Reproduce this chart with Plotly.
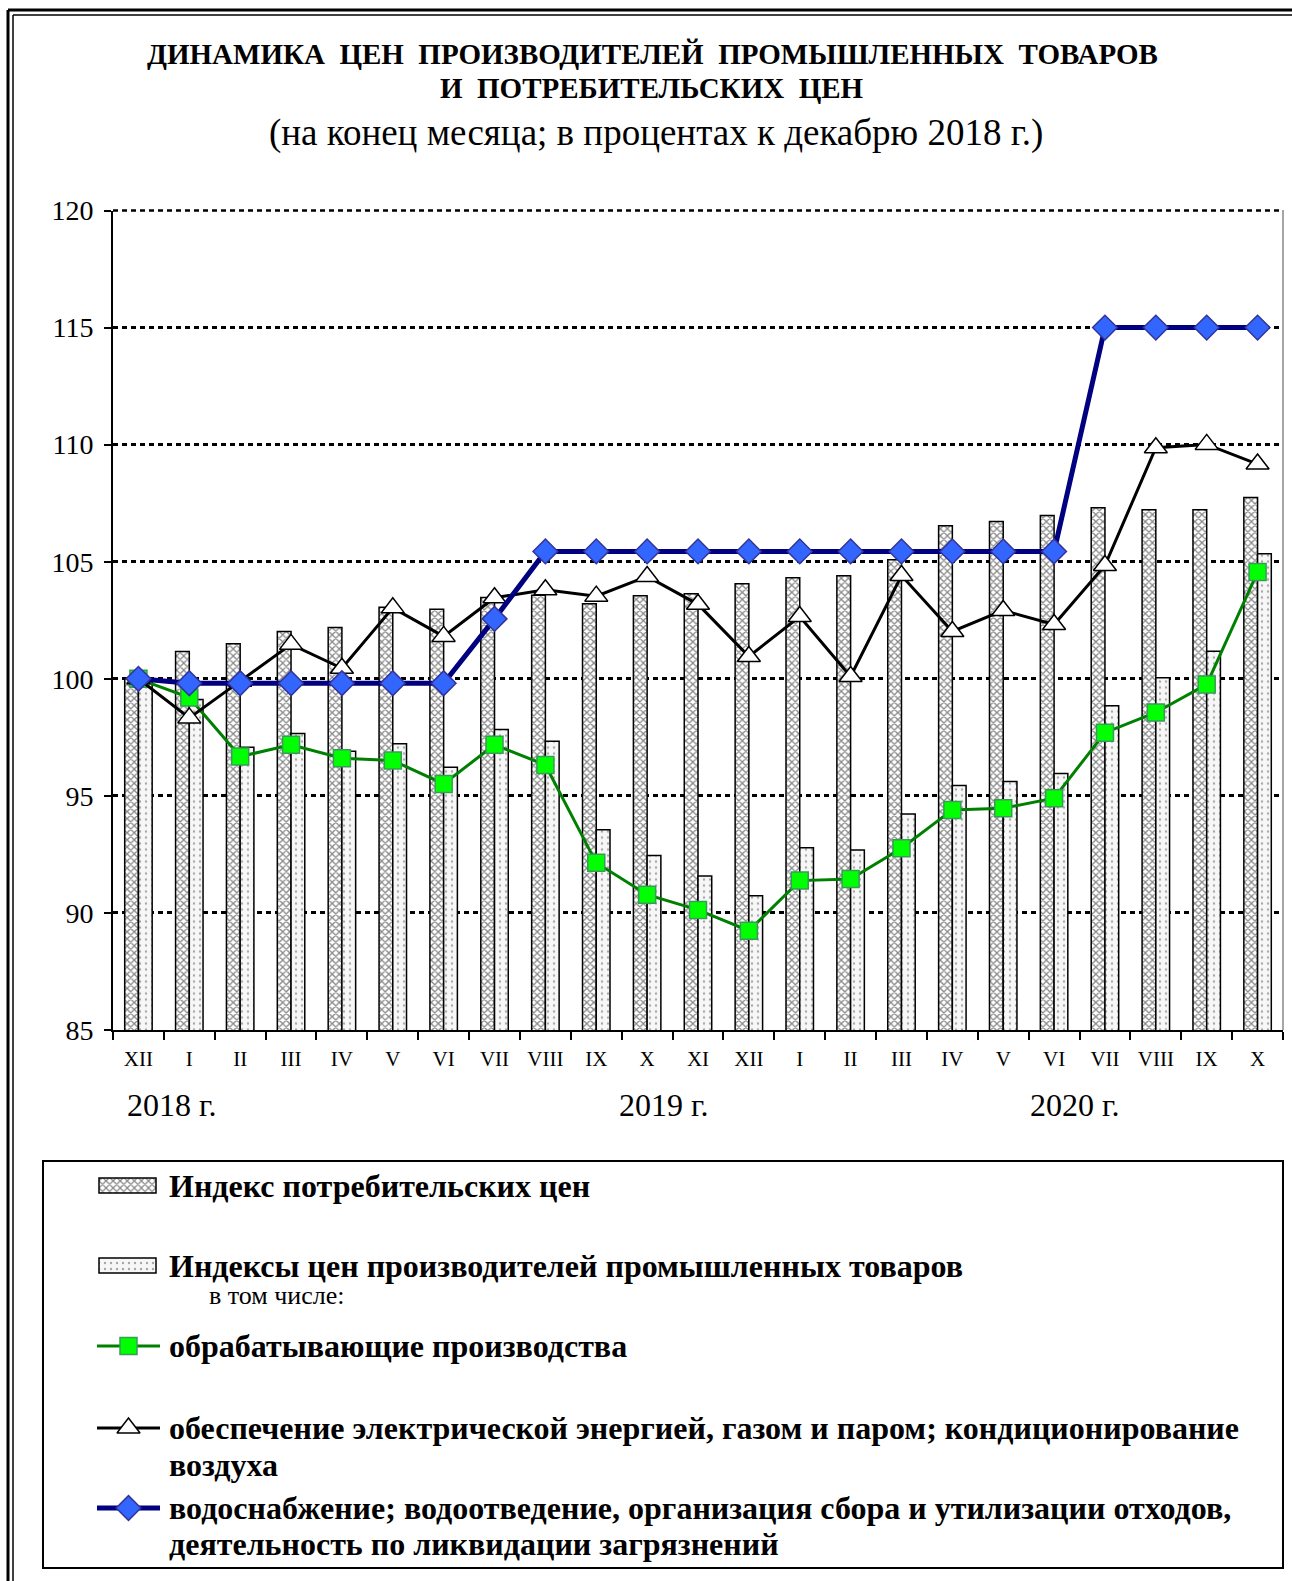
import plotly.graph_objects as go

# ---------------- data ----------------
months = ["XII", "I", "II", "III", "IV", "V", "VI", "VII", "VIII", "IX", "X", "XI",
          "XII", "I", "II", "III", "IV", "V", "VI", "VII", "VIII", "IX", "X"]
cpi = [100.0, 101.17, 101.5, 102.02, 102.19, 103.06, 102.97, 103.47, 103.57, 103.2, 103.55, 103.63,
       104.06, 104.31, 104.4, 105.08, 106.54, 106.72, 106.97, 107.31, 107.22, 107.22, 107.74]
ppi = [100.0, 99.12, 97.08, 97.66, 96.91, 97.23, 96.22, 97.83, 97.33, 93.55, 92.45, 91.58,
       90.73, 92.78, 92.69, 94.23, 95.44, 95.61, 95.95, 98.85, 100.04, 101.18, 105.34]
manufacturing = [100.0, 99.2, 96.68, 97.18, 96.61, 96.51, 95.51, 97.18, 96.32, 92.14, 90.78, 90.13,
                 89.24, 91.38, 91.45, 92.76, 94.4, 94.47, 94.9, 97.7, 98.56, 99.76, 104.56]
energy = [100.0, 98.33, 99.9, 101.47, 100.45, 103.03, 101.81, 103.46, 103.8, 103.53, 104.37, 103.18,
          100.95, 102.66, 100.1, 104.41, 102.02, 102.92, 102.32, 104.84, 109.87, 110.01, 109.17]
water = [100.0, 99.81, 99.81, 99.81, 99.81, 99.81, 99.81, 102.56, 105.44, 105.44, 105.44, 105.44,
         105.44, 105.44, 105.44, 105.44, 105.44, 105.44, 105.44, 115.0, 115.0, 115.0, 115.0]
years = ["2018 г.", "2019 г.", "2020 г."]
y_ticks = [85, 90, 95, 100, 105, 110, 115, 120]

names = ["Индекс потребительских цен",
         "Индексы цен производителей промышленных товаров",
         "обрабатывающие производства",
         "обеспечение электрической энергией, газом и паром; кондиционирование",
         "водоснабжение; водоотведение, организация сбора и утилизации отходов,"]

W, H = 1292, 1581
SERIF = "Liberation Serif, Times New Roman, serif"
idx = list(range(len(months)))

CPI_MARKER = dict(color="white", line=dict(color="black", width=1.5),
                  pattern=dict(shape="x", fgcolor="#111", bgcolor="white", size=5, solidity=0.45))
PPI_MARKER = dict(color="white", line=dict(color="black", width=1.5),
                  pattern=dict(shape=".", fgcolor="#555", bgcolor="#f7f7f7", size=6, solidity=0.12))
MAN_LINE = dict(color="#008000", width=3)
MAN_MK = dict(symbol="square", size=17, color="#00ff00", line=dict(color="#3a9a5a", width=1.5))
EN_LINE = dict(color="black", width=3)
EN_MK = dict(symbol="triangle-up", size=20, color="white", line=dict(color="black", width=1.5))
WAT_LINE = dict(color="#000080", width=5)
WAT_MK = dict(symbol="diamond", size=19, color="#3366ff", line=dict(color="#333399", width=1.5))

fig = go.Figure()

# ---------------- main chart ----------------
fig.add_trace(go.Bar(x=idx, y=cpi, name=names[0], showlegend=False, marker=CPI_MARKER))
fig.add_trace(go.Bar(x=idx, y=ppi, name=names[1], showlegend=False, marker=PPI_MARKER))
fig.add_trace(go.Scatter(x=idx, y=manufacturing, mode="lines+markers", showlegend=False,
                         line=MAN_LINE, marker=MAN_MK))
fig.add_trace(go.Scatter(x=idx, y=energy, mode="lines+markers", showlegend=False,
                         line=EN_LINE, marker=EN_MK))
fig.add_trace(go.Scatter(x=idx, y=water, mode="lines+markers", showlegend=False,
                         line=WAT_LINE, marker=WAT_MK))

x0, x1 = 113 / W, 1283 / W
y0, y1 = 1 - 1030 / H, 1 - 210.5 / H

# ---------------- legend (pixel-coordinate overlay axes) ----------------
fig.add_trace(go.Bar(x=[127.5], y=[15], base=[1178], width=[57], offset=-28.5,
                     xaxis="x2", yaxis="y2", showlegend=False, marker=CPI_MARKER))
fig.add_trace(go.Bar(x=[127.5], y=[15], base=[1258], width=[57], offset=-28.5,
                     xaxis="x2", yaxis="y2", showlegend=False, marker=PPI_MARKER))
for yy, ln, mk in [(1346, MAN_LINE, MAN_MK), (1428, EN_LINE, EN_MK), (1508, WAT_LINE, WAT_MK)]:
    fig.add_trace(go.Scatter(x=[97, 160], y=[yy, yy], mode="lines", line=ln,
                             xaxis="x2", yaxis="y2", showlegend=False))
    fig.add_trace(go.Scatter(x=[128.5], y=[yy], mode="markers", marker=mk,
                             xaxis="x2", yaxis="y2", showlegend=False))

annotations = []
def txt(x, y, s, size, bold=False, anchor="left"):
    annotations.append(dict(x=x, y=y, xref="x2", yref="y2", text=("<b>%s</b>" % s) if bold else s,
                            showarrow=False, xanchor=anchor, yanchor="middle",
                            font=dict(family=SERIF, size=size, color="black")))

# titles
txt(652, 54, "ДИНАМИКА\u00a0\u00a0ЦЕН\u00a0\u00a0ПРОИЗВОДИТЕЛЕЙ\u00a0\u00a0ПРОМЫШЛЕННЫХ\u00a0\u00a0ТОВАРОВ",
    29, bold=True, anchor="center")
txt(652, 88, "И\u00a0\u00a0ПОТРЕБИТЕЛЬСКИХ\u00a0\u00a0ЦЕН", 29, bold=True, anchor="center")
txt(656, 133, "(на конец месяца; в процентах к декабрю 2018 г.)", 37, anchor="center")

# legend texts
LS = 32
txt(167, 1186, names[0], LS, bold=True)
txt(167, 1266, names[1], LS, bold=True)
txt(207, 1295, "в том числе:", 26)
txt(167, 1346, names[2], LS, bold=True)
txt(167, 1428, names[3], LS, bold=True)
txt(167, 1465, "воздуха", LS, bold=True)
txt(167, 1508, names[4], LS, bold=True)
txt(167, 1544, "деятельность по ликвидации загрязнений", LS, bold=True)

# year labels under the month axis
for xv, label in zip([0.66, 10.34, 18.42], years):
    annotations.append(dict(x=xv, y=1105, xref="x", yref="y2", text=label, showarrow=False,
                            xanchor="center", yanchor="middle",
                            font=dict(family=SERIF, size=32, color="black")))

GRID = dict(color="black", width=2.5, dash="5px,4px")
shapes = [
    # double frame (top and left)
    dict(type="line", xref="x2", yref="y2", x0=8, x1=1300, y0=10, y1=10, line=dict(color="black", width=3)),
    dict(type="line", xref="x2", yref="y2", x0=13, x1=1300, y0=15, y1=15, line=dict(color="black", width=1.5)),
    dict(type="line", xref="x2", yref="y2", x0=8, x1=8, y0=10, y1=1600, line=dict(color="black", width=3)),
    dict(type="line", xref="x2", yref="y2", x0=13, x1=13, y0=15, y1=1600, line=dict(color="black", width=1.5)),
    # top gridline (120) and right edge of plot area
    dict(type="line", xref="x2", yref="y2", x0=113, x1=1283, y0=210.5, y1=210.5, line=GRID),
    dict(type="line", xref="x2", yref="y2", x0=1283, x1=1283, y0=210, y1=1030, line=dict(color="#888", width=1.5)),
    # legend box
    dict(type="rect", xref="x2", yref="y2", x0=43, x1=1283, y0=1161, y1=1568,
         line=dict(color="black", width=2)),
]

fig.update_layout(
    width=W, height=H,
    margin=dict(l=0, r=0, t=0, b=0),
    paper_bgcolor="white", plot_bgcolor="rgba(0,0,0,0)",
    barmode="group", bargap=0.46, bargroupgap=0,
    showlegend=False,
    font=dict(family=SERIF, color="black"),
    xaxis=dict(domain=[x0, x1], anchor="y", range=[-0.5, 22.5], tickmode="array",
               tickvals=idx, ticktext=months, ticks="", showgrid=False, zeroline=False,
               showline=True, linecolor="black", linewidth=2,
               tickfont=dict(family=SERIF, size=21, color="black"), ticklabelstandoff=9,
               minor=dict(tickvals=[i - 0.5 for i in range(len(months) + 1)], ticks="outside",
                          ticklen=8, tickwidth=2, tickcolor="black", showgrid=False),
               automargin=False, fixedrange=True),
    yaxis=dict(domain=[y0, y1], anchor="x", range=[85, 120], tickmode="array", tickvals=y_ticks,
               ticks="outside", ticklen=7, tickwidth=2, tickcolor="black",
               showline=True, linecolor="black", linewidth=2, zeroline=False,
               showgrid=True, gridcolor="black", gridwidth=2.5, griddash="5px,4px",
               tickfont=dict(family=SERIF, size=28, color="black"), ticklabelstandoff=5,
               automargin=False, fixedrange=True),
    xaxis2=dict(domain=[0, 1], anchor="y2", range=[0, W], visible=False, fixedrange=True),
    yaxis2=dict(domain=[0, 1], anchor="x2", range=[H, 0], visible=False, fixedrange=True),
    annotations=annotations,
    shapes=shapes,
)

fig.write_html("out.html")
